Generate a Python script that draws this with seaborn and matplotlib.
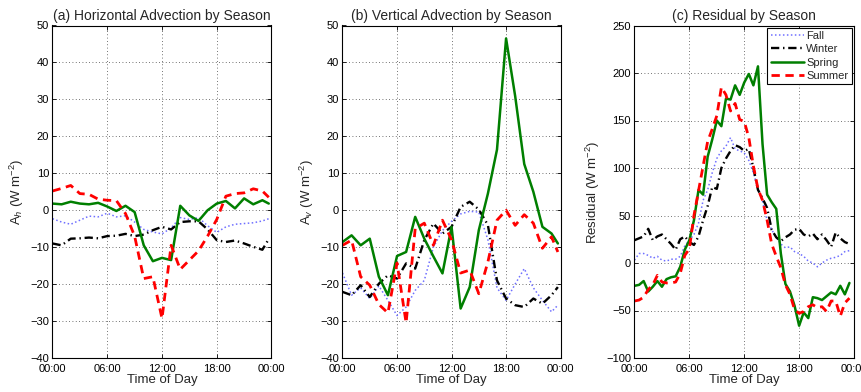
import numpy as np
import pandas as pd
import matplotlib
matplotlib.use("Agg")
import matplotlib.pyplot as plt
import seaborn as sns

# ---------------- data ----------------
seasons = ["Fall", "Winter", "Spring", "Summer"]
titles = ["(a) Horizontal Advection by Season",
          "(b) Vertical Advection by Season",
          "(c) Residual by Season"]
ylabels = ["A$_h$ (W m$^{-2}$)", "A$_v$ (W m$^{-2}$)", "Residual (W m$^{-2}$)"]
xtick_hours = [0, 6, 12, 18, 24]
xtick_labels = ["00:00", "06:00", "12:00", "18:00", "00:00"]

hours_ab = [0, 1, 2, 3, 4, 5, 6, 7, 8, 9, 10, 11, 12, 13, 14, 15, 16, 17,
            18, 19, 20, 21, 22, 23, 23.7]

# (a) horizontal advection
ah_fall = [-2.3, -3.2, -3.8, -2.7, -1.6, -1.8, -0.8, -1.8, -1.5, -3.2, -5.2, -5.9, -6.4,
           -4.8, -2.0, -2.5, -2.0, -4.2, -6.0, -4.5, -3.8, -3.6, -3.4, -2.9, -2.3]
ah_winter = [-9.0, -9.5, -7.7, -7.6, -7.4, -7.6, -7.0, -6.9, -6.4, -7.0, -6.6, -5.4, -4.5,
             -5.2, -3.2, -3.0, -3.0, -5.2, -8.1, -8.6, -8.2, -9.0, -9.9, -10.7, -7.8]
ah_spring = [1.8, 1.6, 2.3, 1.8, 1.6, 2.0, 1.0, -0.2, 1.2, -0.5, -9.5, -13.8, -12.9,
             -13.5, 1.2, -1.4, -2.9, 0.0, 1.8, 2.5, 0.5, 3.2, 1.6, 2.7, 1.8]
ah_summer = [5.2, 5.9, 6.7, 4.5, 4.3, 3.0, 2.7, 2.6, -0.9, -7.0, -18.5, -18.0, -29.3,
             -9.5, -16.0, -13.5, -11.0, -7.0, -2.5, 3.8, 4.5, 4.7, 5.8, 5.2, 3.5]

# (b) vertical advection
av_fall = [-17.0, -23.0, -21.0, -23.9, -20.5, -24.4, -28.5, -26.2, -21.7, -19.0, -10.0,
           -5.5, -3.0, -1.0, -0.3, -0.5, -8.0, -21.0, -24.4, -20.0, -15.8, -21.0, -24.4,
           -27.5, -25.7]
av_winter = [-22.1, -23.0, -20.3, -23.5, -19.9, -17.6, -18.5, -14.4, -15.8, -8.1, -3.6,
             -6.3, -4.5, 0.9, 2.3, 0.2, -4.0, -19.0, -23.9, -25.7, -26.2, -23.9, -25.3,
             -23.0, -20.8]
av_spring = [-8.6, -6.8, -9.5, -7.7, -18.0, -23.0, -12.4, -11.3, -1.8, -7.7, -12.5,
             -17.1, -4.5, -26.6, -20.8, -5.4, 4.5, 16.4, 46.5, 30.9, 12.5, 5.0, -4.5,
             -6.3, -9.0]
av_summer = [-9.5, -8.1, -18.0, -20.3, -25.5, -27.8, -14.3, -30.5, -5.0, -3.5, -9.5,
             -2.7, -8.0, -17.0, -16.2, -22.6, -14.0, -2.7, 0.0, -4.1, -1.2, -3.5, -10.3,
             -7.2, -11.3]

hours_c = list(np.arange(0, 24, 0.5))

# (c) residual
res_fall = [3, 10, 10, 8, 5, 7, 3, 2, 4, 4, 7, 18, 24, 30, 42, 66, 77, 95, 110, 118,
            123, 132, 120, 118, 116, 108, 95, 78, 65, 45, 35, 27, 20, 16, 17, 12, 10, 7,
            2, 0, -4, 0, 3, 5, 6, 8, 12, 13]
res_winter = [24, 26, 28, 36, 24, 28, 30, 25, 20, 14, 25, 28, 22, 19, 28, 45, 60, 80, 78,
              100, 110, 118, 124, 122, 118, 120, 100, 77, 68, 58, 35, 27, 23, 27, 30, 35,
              36, 30, 28, 31, 25, 30, 24, 17, 32, 26, 22, 20]
res_spring = [-24, -23, -19, -30, -25, -19, -25, -17, -15, -14, -4, 14, 24, 45, 77, 72,
              112, 130, 150, 144, 173, 172, 187, 177, 190, 199, 187, 207, 125, 72, 64, 57,
              10, -22, -30, -45, -66, -52, -58, -36, -37, -39, -35, -31, -33, -24, -33, -21]
res_summer = [-40, -39, -36, -28, -23, -13, -20, -21, -21, -20, -11, 8, 15, 50, 76, 102,
              128, 141, 155, 185, 177, 160, 168, 151, 149, 132, 102, 78, 66, 45, 20, 7,
              -5, -23, -33, -49, -53, -51, -46, -44, -47, -46, -51, -40, -40, -56, -42, -37]

# ---------------- styling ----------------
sns.set_theme(style="ticks")
plt.rcParams["font.family"] = ["Liberation Sans", "DejaVu Sans"]
plt.rcParams["mathtext.fontset"] = "custom"
plt.rcParams["mathtext.rm"] = "Liberation Sans"
plt.rcParams["mathtext.it"] = "Liberation Sans:italic"

styles = {
    "Fall":   dict(color="#6f6fff", lw=1.1, dashes=(1.0, 1.6)),
    "Winter": dict(color="black", lw=1.7, dashes=(3.5, 1.6, 0.6, 1.6)),
    "Spring": dict(color="#007f00", lw=1.8, dashes=None),
    "Summer": dict(color="#ff0000", lw=2.0, dashes=(3.0, 2.0)),
}

panels = [
    (hours_ab, [ah_fall, ah_winter, ah_spring, ah_summer], (-40, 50), np.arange(-40, 51, 10)),
    (hours_ab, [av_fall, av_winter, av_spring, av_summer], (-40, 50), np.arange(-40, 51, 10)),
    (hours_c, [res_fall, res_winter, res_spring, res_summer], (-100, 250), np.arange(-100, 251, 50)),
]

fig = plt.figure(figsize=(8.62, 3.92), dpi=100)
W, H = 862.0, 392.0
boxes = [(52.5, 271.5), (342.5, 560.6), (634.5, 854.0)]
top_px, bot_px = 25.5, 358.0

for i, (hrs, series, ylim, yticks) in enumerate(panels):
    l, r = boxes[i]
    ax = fig.add_axes([l / W, 1 - bot_px / H, (r - l) / W, (bot_px - top_px) / H])
    for name, vals in zip(seasons, series):
        st = styles[name]
        df = pd.DataFrame({"hour": hrs, "value": vals})
        sns.lineplot(data=df, x="hour", y="value", ax=ax, color=st["color"],
                     lw=st["lw"], label=name, legend=False, sort=False)
        line = ax.lines[-1]
        if st["dashes"] is not None:
            line.set_dashes(st["dashes"])
        else:
            line.set_linestyle("-")
    ax.set_xlim(0, 24)
    ax.set_ylim(*ylim)
    ax.set_xticks(xtick_hours)
    ax.set_xticklabels(xtick_labels)
    ax.set_yticks(yticks)
    ax.set_yticklabels([str(int(t)).replace("-", "\u2212") for t in yticks])
    ax.grid(True, color="#444444", linestyle=(0, (1, 3)), lw=0.6)
    ax.set_axisbelow(True)
    for s in ax.spines.values():
        s.set_visible(True)
        s.set_color("black")
        s.set_linewidth(0.8)
    ax.tick_params(direction="in", length=3, width=0.6, labelsize=8,
                   top=True, right=True, pad=2.5, colors="black")
    ax.tick_params(axis="x", pad=4.5)
    ax.set_title(titles[i], fontsize=10, pad=4)
    ax.set_xlabel("Time of Day", fontsize=9.5, labelpad=0)
    ax.set_ylabel(ylabels[i], fontsize=9.5, labelpad=3)
    if i == 2:
        leg = ax.legend(loc="upper right", fontsize=8, frameon=True, fancybox=False,
                        borderpad=0.3, labelspacing=0.3, handlelength=3.0,
                        handletextpad=0.2, borderaxespad=0.2)
        leg.get_frame().set_edgecolor("black")
        leg.get_frame().set_linewidth(0.8)
        leg.get_frame().set_alpha(1)

fig.savefig("out.png", dpi=100)
